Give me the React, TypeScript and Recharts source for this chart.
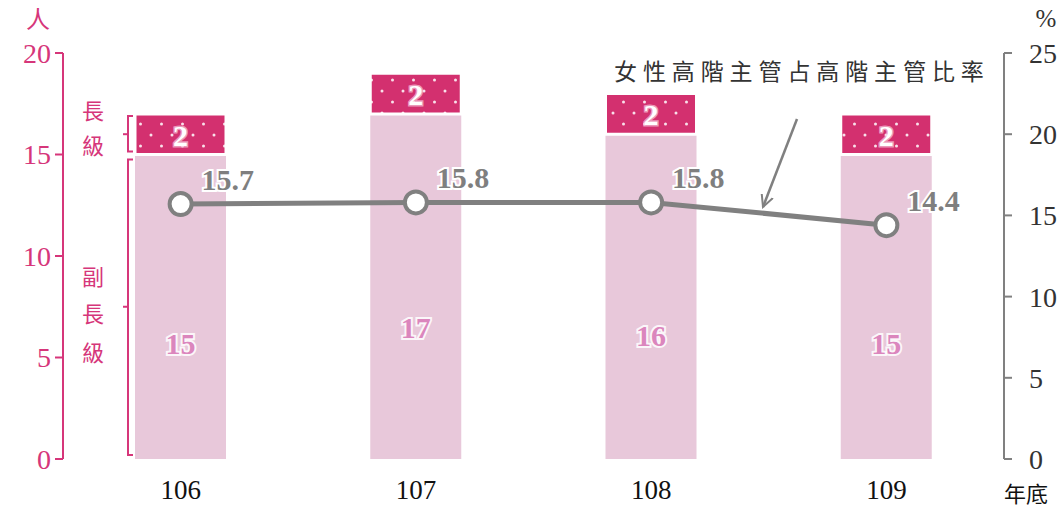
import React from 'react';
import { Bar, ComposedChart, LabelList, Line, XAxis, YAxis } from 'recharts';

const years = ['106', '107', '108', '109'];
const deputyHeads = [15, 17, 16, 15];
const heads = [2, 2, 2, 2];
const femaleRate = [15.7, 15.8, 15.8, 14.4];
const leftTicks = [0, 5, 10, 15, 20];
const rightTicks = [0, 5, 10, 15, 20, 25];

const data = years.map((year, i) => ({
    year,
    deputy: deputyHeads[i],
    head: heads[i],
    rate: femaleRate[i]
}));

const W = 1064;
const H = 508;
const PLOT_TOP = 53;
const PLOT_BOTTOM = 459;
const PINK = '#d6367a';
const GRAY = '#808080';
const SERIF = 'Liberation Serif, Times New Roman, serif';
const CJK = '"Noto Sans CJK TC", "Noto Sans CJK SC", sans-serif';

// left axis value -> pixel, only for the bracket annotations
const yLeft = (v: number) => PLOT_BOTTOM - (v / 20) * (PLOT_BOTTOM - PLOT_TOP);

const DeputyLabel = (props: any) => {
    const { x, y, width, height, value } = props;
    return (
        <text
            x={x + width / 2}
            y={y + height * 0.62}
            textAnchor='middle'
            dominantBaseline='central'
            fontFamily={SERIF}
            fontWeight='bold'
            fontSize={30}
            fill='#db86bd'
            stroke='#fff'
            strokeWidth={4}
            strokeOpacity={0.85}
            paintOrder='stroke'
        >
            {value}
        </text>
    );
};

const HeadLabel = (props: any) => {
    const { x, y, width, height, value } = props;
    return (
        <text
            x={x + width / 2}
            y={y + height / 2 + 1}
            textAnchor='middle'
            dominantBaseline='central'
            fontFamily={SERIF}
            fontWeight='bold'
            fontSize={30}
            fill='#fff'
            stroke='#f7c6dc'
            strokeWidth={3}
            strokeOpacity={0.7}
            paintOrder='stroke'
        >
            {value}
        </text>
    );
};

const RateLabel = (props: any) => {
    const { x, y, value } = props;
    return (
        <text
            x={x + 47}
            y={y - 25}
            textAnchor='middle'
            dominantBaseline='central'
            fontFamily={SERIF}
            fontWeight='bold'
            fontSize={30}
            fill='#7f7f7f'
            stroke='#fff'
            strokeWidth={4}
            paintOrder='stroke'
        >
            {value}
        </text>
    );
};

const Brackets = () => {
    const top15 = yLeft(15);
    const top17 = yLeft(17);
    const bottom = yLeft(0);
    const bx = 128;
    return (
        <svg
            width={W}
            height={H}
            style={{ position: 'absolute', left: 0, top: 0, pointerEvents: 'none' }}
        >
            <g stroke={PINK} strokeWidth={2} fill='none'>
                {/* 長級 */}
                <path d={`M ${bx + 5} ${top17 + 2} H ${bx} V ${top15 - 3} H ${bx + 5}`} />
                <path d={`M ${bx} ${(top17 + top15) / 2} H ${bx - 5}`} />
                {/* 副長級 */}
                <path d={`M ${bx + 5} ${top15 + 5} H ${bx} V ${bottom - 4} H ${bx + 5}`} />
                <path d={`M ${bx} ${(top15 + bottom) / 2} H ${bx - 5}`} />
            </g>
            <g fontFamily={CJK} fontSize={22} fill={PINK} textAnchor='middle'>
                <text x={93} y={119}>長</text>
                <text x={93} y={154}>級</text>
                <text x={93} y={285}>副</text>
                <text x={93} y={322}>長</text>
                <text x={93} y={361}>級</text>
            </g>
            <text x={38} y={28} fontFamily={CJK} fontSize={24} fill={PINK} textAnchor='middle'>
                人
            </text>
            <text x={1046} y={27} fontFamily={SERIF} fontSize={25} fill='#333' textAnchor='middle'>
                %
            </text>
            <text x={1026} y={502} fontFamily={CJK} fontSize={22} fill='#111' textAnchor='middle'>
                年底
            </text>
            <text
                x={614}
                y={80}
                fontFamily={CJK}
                fontSize={23}
                letterSpacing={5.9}
                fill='#333'
            >
                女性高階主管占高階主管比率
            </text>
            <defs>
                <marker
                    id='arrowHead'
                    markerWidth={14}
                    markerHeight={14}
                    refX={12}
                    refY={7}
                    orient='auto'
                    markerUnits='userSpaceOnUse'
                >
                    <path d='M 0 1 L 12 7 L 0 13' fill='none' stroke={GRAY} strokeWidth={2} />
                </marker>
            </defs>
            <line
                x1={797}
                y1={119}
                x2={763}
                y2={207}
                stroke={GRAY}
                strokeWidth={2.5}
                markerEnd='url(#arrowHead)'
            />
        </svg>
    );
};

export default function App() {
    return (
        <div style={{ position: 'absolute', left: 0, top: 0, width: W, height: H, background: '#fff' }}>
            <ComposedChart
                width={W}
                height={H}
                data={data}
                margin={{ top: PLOT_TOP, right: 0, bottom: 0, left: 0 }}
                barCategoryGap={0}
            >
                <defs>
                    <pattern id='dots' width={21} height={22} patternUnits='userSpaceOnUse'>
                        <rect width={21} height={22} fill='#d3306f' />
                        <circle cx={4} cy={3} r={1.5} fill='#fff' fillOpacity={0.85} />
                        <circle cx={14.5} cy={14} r={1.5} fill='#fff' fillOpacity={0.85} />
                    </pattern>
                </defs>
                <XAxis
                    xAxisId='edge'
                    type='number'
                    domain={[0, 4]}
                    ticks={[0, 1, 2, 3, 4]}
                    tick={false}
                    height={0}
                    tickSize={8}
                    axisLine={{ stroke: GRAY, strokeWidth: 2 }}
                    tickLine={{ stroke: GRAY, strokeWidth: 2 }}
                    allowDataOverflow
                />
                <XAxis
                    xAxisId='cat'
                    dataKey='year'
                    height={H - PLOT_BOTTOM}
                    axisLine={false}
                    tickLine={false}
                    tickSize={8}
                    tickMargin={13}
                    tick={{ fontFamily: SERIF, fontSize: 27, fill: '#111' }}
                />
                <YAxis
                    yAxisId='left'
                    domain={[0, 20]}
                    ticks={leftTicks}
                    width={63}
                    tickSize={8}
                    tickMargin={4}
                    axisLine={{ stroke: PINK, strokeWidth: 2 }}
                    tickLine={{ stroke: PINK, strokeWidth: 2 }}
                    tick={{ fontFamily: SERIF, fontSize: 28, fill: PINK }}
                />
                <YAxis
                    yAxisId='right'
                    orientation='right'
                    domain={[0, 25]}
                    ticks={rightTicks}
                    width={60}
                    tickSize={8}
                    tickMargin={17}
                    axisLine={{ stroke: GRAY, strokeWidth: 2 }}
                    tickLine={{ stroke: GRAY, strokeWidth: 2 }}
                    tick={{ fontFamily: SERIF, fontSize: 28, fill: '#333', textAnchor: 'start' }}
                />
                <Bar
                    xAxisId='cat'
                    yAxisId='left'
                    dataKey='deputy'
                    stackId='s'
                    fill='#e8c8da'
                    barSize={91}
                    isAnimationActive={false}
                >
                    <LabelList dataKey='deputy' content={DeputyLabel} />
                </Bar>
                <Bar
                    xAxisId='cat'
                    yAxisId='left'
                    dataKey='head'
                    stackId='s'
                    fill='url(#dots)'
                    stroke='#fff'
                    strokeWidth={3}
                    barSize={91}
                    isAnimationActive={false}
                >
                    <LabelList dataKey='head' content={HeadLabel} />
                </Bar>
                <Line
                    xAxisId='cat'
                    yAxisId='right'
                    dataKey='rate'
                    stroke={GRAY}
                    strokeWidth={5}
                    dot={{ r: 11, fill: '#fff', stroke: GRAY, strokeWidth: 4 }}
                    isAnimationActive={false}
                >
                    <LabelList dataKey='rate' content={RateLabel} />
                </Line>
            </ComposedChart>
            <Brackets />
        </div>
    );
}
